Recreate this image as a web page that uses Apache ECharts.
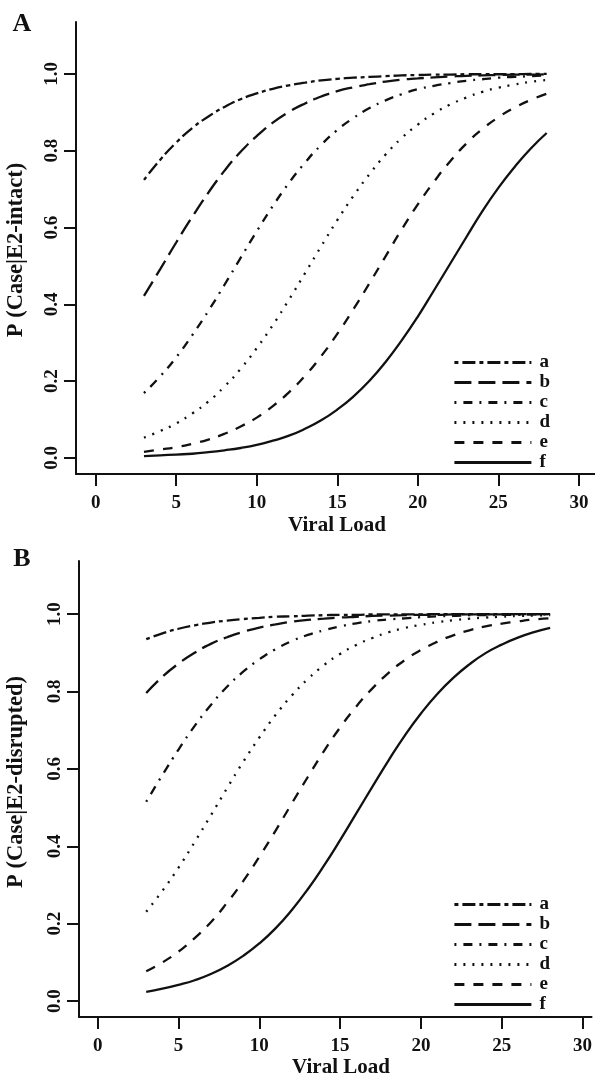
<!DOCTYPE html>
<html>
<head>
<meta charset="utf-8">
<script src="https://cdn.jsdelivr.net/npm/echarts@6/dist/echarts.min.js"></script>
<style>
html,body{margin:0;padding:0;background:#fff;}
#chart{width:595px;height:1079px;}
</style>
</head>
<body>
<div id="chart"></div>
<script>
// Viral load (x) values where the curves are sampled
const viralLoad = [3,4,5,6,7,8,9,10,11,12,13,14,15,16,17,18,19,20,21,22,23,24,25,26,27,28];

// Panel A: P(Case | E2-intact)
const intactA = [0.724,0.776,0.821,0.859,0.889,0.914,0.934,0.949,0.961,0.970,0.977,0.983,0.987,0.990,0.992,0.994,0.996,0.997,0.998,0.998,0.999,0.999,0.999,0.999,1.000,1.000];
const intactB = [0.422,0.491,0.561,0.628,0.691,0.748,0.797,0.838,0.873,0.901,0.923,0.941,0.955,0.965,0.973,0.980,0.985,0.988,0.991,0.993,0.995,0.996,0.997,0.998,0.998,0.999];
const intactC = [0.169,0.212,0.262,0.320,0.383,0.451,0.521,0.590,0.656,0.716,0.769,0.815,0.854,0.885,0.911,0.931,0.947,0.960,0.969,0.976,0.982,0.986,0.990,0.992,0.994,0.996];
const intactD = [0.053,0.070,0.090,0.116,0.147,0.186,0.232,0.286,0.346,0.412,0.481,0.551,0.619,0.682,0.739,0.790,0.833,0.868,0.897,0.920,0.938,0.953,0.964,0.972,0.979,0.984];
const intactE = [0.016,0.022,0.028,0.037,0.048,0.063,0.082,0.105,0.135,0.171,0.214,0.265,0.323,0.387,0.455,0.525,0.595,0.660,0.719,0.772,0.818,0.856,0.887,0.912,0.932,0.948];
const intactF = [0.005,0.007,0.009,0.011,0.015,0.020,0.026,0.034,0.045,0.058,0.076,0.098,0.126,0.160,0.201,0.250,0.306,0.368,0.436,0.505,0.574,0.642,0.703,0.757,0.805,0.846];

// Panel B: P(Case | E2-disrupted)
const disruptA = [0.935,0.950,0.962,0.971,0.978,0.983,0.987,0.990,0.993,0.994,0.996,0.997,0.998,0.998,0.999,0.999,0.999,0.999,1.000,1.000,1.000,1.000,1.000,1.000,1.000,1.000];
const disruptB = [0.796,0.838,0.872,0.900,0.923,0.940,0.954,0.965,0.973,0.980,0.985,0.988,0.991,0.993,0.995,0.996,0.997,0.998,0.998,0.999,0.999,0.999,0.999,1.000,1.000,1.000];
const disruptC = [0.515,0.584,0.650,0.711,0.765,0.812,0.851,0.883,0.909,0.930,0.946,0.958,0.968,0.976,0.982,0.986,0.989,0.992,0.994,0.995,0.997,0.997,0.998,0.998,0.999,0.999];
const disruptD = [0.231,0.285,0.345,0.411,0.480,0.550,0.618,0.681,0.739,0.789,0.832,0.868,0.897,0.920,0.938,0.953,0.964,0.972,0.979,0.984,0.988,0.991,0.993,0.995,0.996,0.997];
const disruptE = [0.077,0.100,0.128,0.163,0.204,0.254,0.310,0.373,0.440,0.510,0.579,0.646,0.707,0.761,0.808,0.848,0.881,0.907,0.928,0.945,0.958,0.968,0.975,0.981,0.986,0.989];
const disruptF = [0.024,0.032,0.042,0.054,0.070,0.091,0.117,0.149,0.188,0.235,0.289,0.350,0.416,0.485,0.554,0.622,0.686,0.743,0.793,0.835,0.870,0.899,0.921,0.939,0.953,0.964];

const seriesNames = ['a','b','c','d','e','f'];
const xTicks = [0,5,10,15,20,25,30];
const yTicks = [0,0.2,0.4,0.6,0.8,1.0];
const xTitle = 'Viral Load';
const yTitleA = 'P (Case|E2-intact)';
const yTitleB = 'P (Case|E2-disrupted)';

const dashes = {
  a: [4,4,13,4],
  b: [17,7],
  c: [2,7,9,7],
  d: [2,7],
  e: [10,9],
  f: 'solid'
};

const FONT = '"Liberation Serif","Times New Roman",serif';
const panelA = [intactA,intactB,intactC,intactD,intactE,intactF];
const panelB = [disruptA,disruptB,disruptC,disruptD,disruptE,disruptF];

function pairs(ys){ return viralLoad.map((x,i)=>[x,ys[i]]); }

function axisPair(gridIndex, xmin, xmax, ymin, ymax){
  const common = {
    gridIndex: gridIndex,
    type: 'value',
    splitLine: {show:false},
    axisLine: {show:true, onZero:false, lineStyle:{color:'#111', width:2}},
    axisTick: {show:true, inside:false, length:12, lineStyle:{color:'#111', width:2}},
  };
  const x = Object.assign({}, common, {
    min: xmin, max: xmax,
    axisTick: Object.assign({}, common.axisTick, {customValues: xTicks}),
    axisLabel: {customValues: xTicks, margin: 20, color:'#111', fontFamily: FONT, fontWeight:'bold', fontSize:19, formatter: v => String(v)}
  });
  const y = Object.assign({}, common, {
    min: ymin, max: ymax,
    axisTick: Object.assign({}, common.axisTick, {customValues: yTicks}),
    axisLabel: {customValues: yTicks, rotate: 90, margin: 14, color:'#111', fontFamily: FONT, fontWeight:'bold', fontSize:19, formatter: v => v.toFixed(1)}
  });
  return [x,y];
}

const [xA,yA] = axisPair(0, -1.22, 31.0, -0.0417, 1.135);
const [xB,yB] = axisPair(1, -1.16, 30.56, -0.041, 1.137);

const series = [];
seriesNames.forEach((n,i)=>{
  series.push({
    name: n, type:'line', xAxisIndex:0, yAxisIndex:0,
    data: pairs(panelA[i]), smooth: true, symbol:'none', showSymbol:false,
    lineStyle:{color:'#111', width:2.3, type: dashes[n]},
    itemStyle:{color:'#111'},
    emphasis:{disabled:true}
  });
});
seriesNames.forEach((n,i)=>{
  series.push({
    name: n, type:'line', xAxisIndex:1, yAxisIndex:1,
    data: pairs(panelB[i]), smooth: true, symbol:'none', showSymbol:false,
    lineStyle:{color:'#111', width:2.3, type: dashes[n]},
    itemStyle:{color:'#111'},
    emphasis:{disabled:true}
  });
});

function legendAt(top){
  return {
    data: seriesNames, orient:'vertical', left: 448, top: top,
    itemWidth: 77, itemHeight: 14, itemGap: 1,
    selectedMode: false,
    lineStyle: {width: 2.8},
    itemStyle: {color:'rgba(0,0,0,0)', borderColor:'rgba(0,0,0,0)', borderWidth:0, opacity:0},
    textStyle: {color:'#111', fontFamily: FONT, fontWeight:'bold', fontSize:19, lineHeight:18, padding:[0,0,0,3]}
  };
}

function txt(x,y,text,size,rot){
  return {type:'text', x:x, y:y, rotation: rot||0, silent:true,
    style:{text:text, fill:'#111', font:'bold '+size+'px '+FONT, textAlign:'center', textVerticalAlign:'middle'}};
}

const option = {
  animation:false,
  backgroundColor:'#fff',
  grid:[
    {left:76, top:22, width:519, height:452, containLabel:false},
    {left:79, top:561, width:516, height:456, containLabel:false}
  ],
  xAxis:[xA,xB],
  yAxis:[yA,yB],
  legend:[legendAt(348), legendAt(890)],
  series: series,
  graphic:[
    txt(22, 24, 'A', 26),
    txt(22, 559, 'B', 26),
    txt(337, 526, xTitle, 21),
    txt(341, 1068, xTitle, 21),
    txt(16, 250, yTitleA, 22.5, Math.PI/2),
    txt(16, 782, yTitleB, 22.5, Math.PI/2)
  ]
};

const chart = echarts.init(document.getElementById('chart'), null, {renderer:'canvas'});
chart.setOption(option);
</script>
</body>
</html>
